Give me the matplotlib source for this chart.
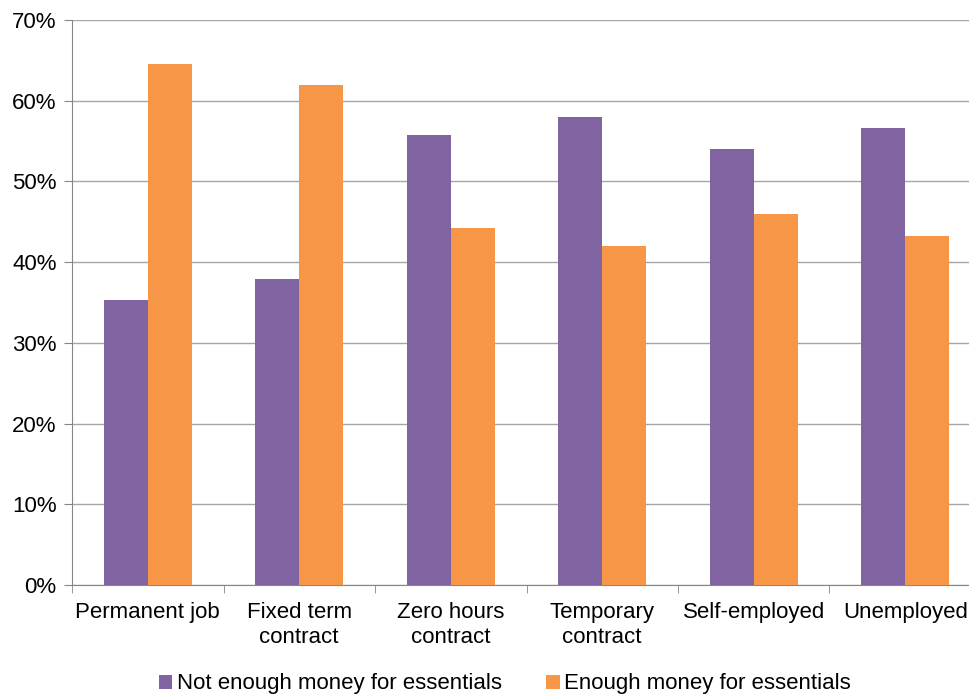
import matplotlib
matplotlib.use("Agg")
import matplotlib.pyplot as plt
import numpy as np
from matplotlib.ticker import PercentFormatter

plt.rcParams["font.family"] = ["Liberation Sans", "DejaVu Sans"]

# data
categories = ["Permanent job", "Fixed term\ncontract", "Zero hours\ncontract",
              "Temporary\ncontract", "Self-employed", "Unemployed"]
not_enough = [35.3, 37.9, 55.8, 58.0, 54.0, 56.6]
enough = [64.6, 62.0, 44.2, 42.0, 46.0, 43.3]

purple = "#8064A2"
orange = "#F79646"

fig = plt.figure(figsize=(9.69, 6.97), dpi=100)
ax = fig.add_axes([72 / 969, 1 - 585 / 697, 909 / 969, 565 / 697])

x = np.arange(len(categories))
w = 0.29
ax.bar(x - w / 2, not_enough, width=w, color=purple, label="Not enough money for essentials", zorder=3)
ax.bar(x + w / 2, enough, width=w, color=orange, label="Enough money for essentials", zorder=3)

ax.set_ylim(0, 70)
ax.set_xlim(-0.5, len(categories) - 0.5)
ax.set_yticks(np.arange(0, 71, 10))
ax.yaxis.set_major_formatter(PercentFormatter(decimals=0))
ax.yaxis.grid(True, color="#A6A6A6", linewidth=1, zorder=0)

ax.set_xticks(x)
ax.set_xticklabels(categories, linespacing=1.3)
ax.set_xticks(np.arange(-0.5, len(categories), 1), minor=True)
ax.tick_params(axis="x", which="major", length=0, pad=12, labelsize=16)
ax.tick_params(axis="x", which="minor", length=6, color="#868686", direction="out")
ax.tick_params(axis="y", length=6, color="#868686", labelsize=16, pad=5)

for s in ["top", "right"]:
    ax.spines[s].set_visible(False)
ax.spines["left"].set_color("#868686")
ax.spines["bottom"].set_color("#868686")

fig.legend(loc="lower center", bbox_to_anchor=(505 / 969, -0.025), ncol=2, frameon=False,
           fontsize=16, handlelength=0.6, handleheight=0.6, handletextpad=0.2, columnspacing=2.0)

fig.savefig("out.png", dpi=100)
